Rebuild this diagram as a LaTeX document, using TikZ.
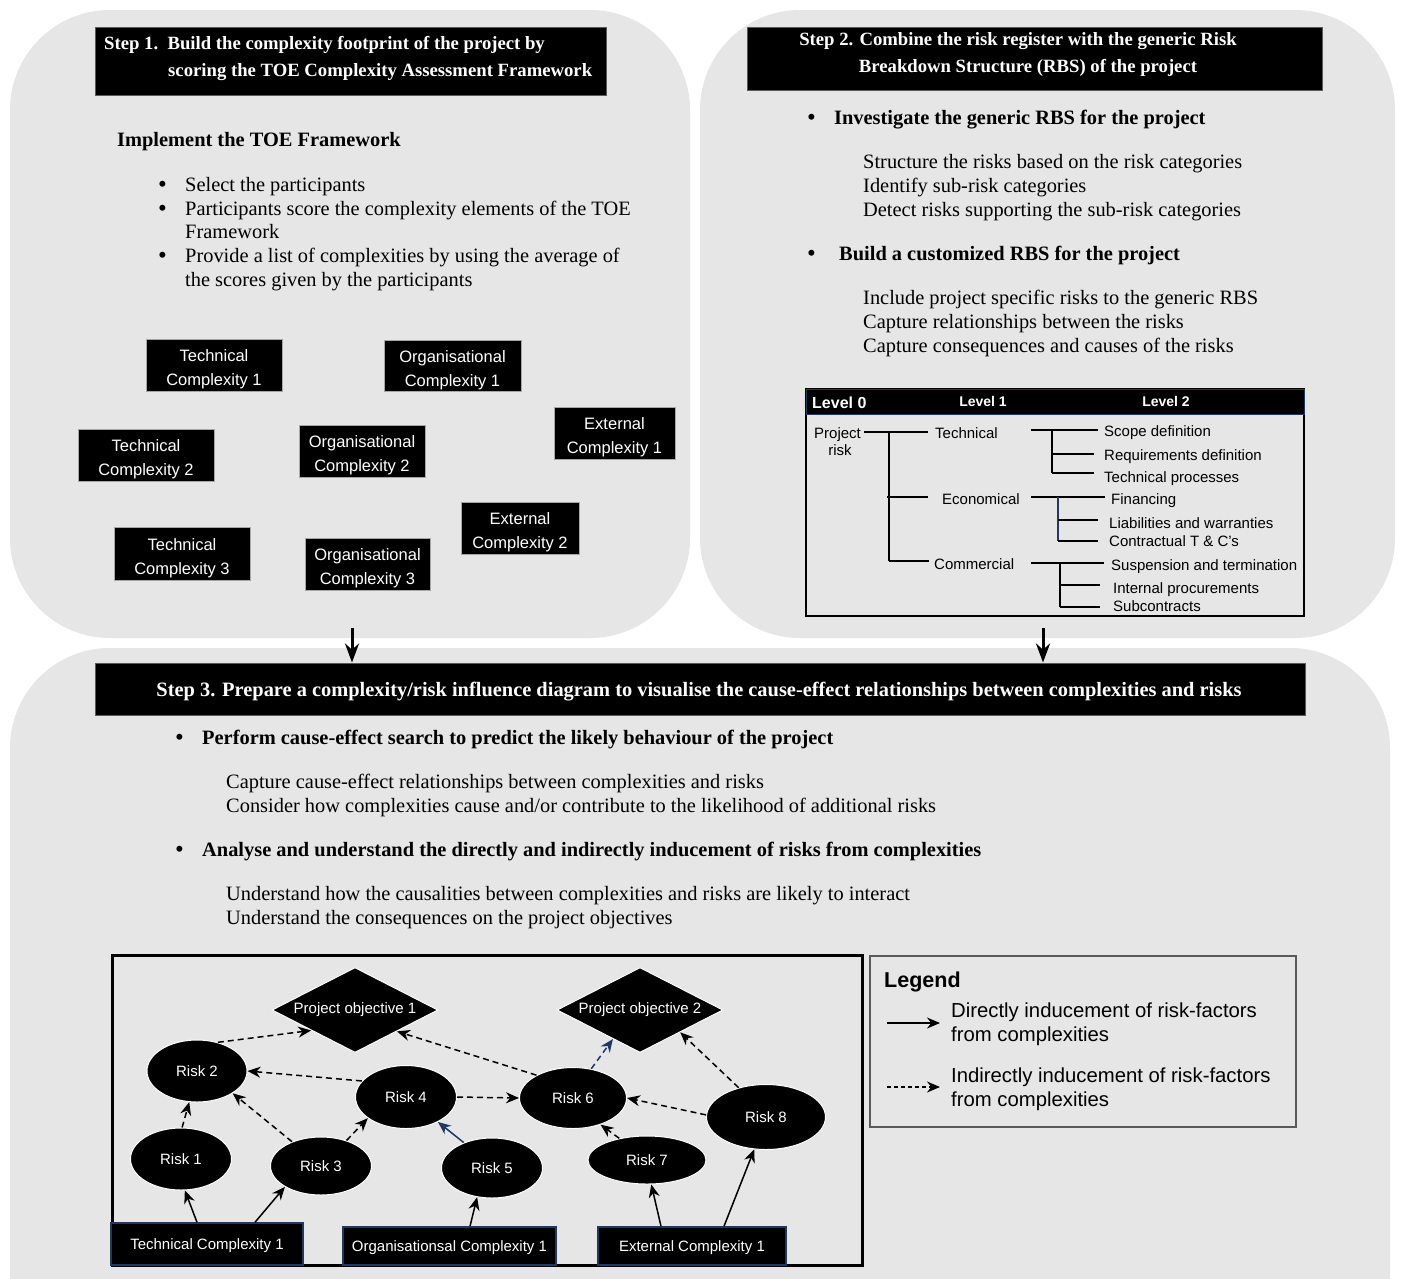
\documentclass[tikz,border=0pt]{standalone}
\usepackage{fontspec}
\setmainfont{Liberation Serif}
\setsansfont{Liberation Sans}
\usetikzlibrary{shapes.geometric,arrows.meta}
\definecolor{panelgray}{RGB}{230,230,230}
\definecolor{navy}{RGB}{31,56,100}
\definecolor{edgegray}{RGB}{90,90,90}
\newcommand\twolines[2]{\raisebox{-4pt}[\height][\depth]{\begin{tabular}{@{}c@{}}#1\\#2\end{tabular}}}
\begin{document}
\begin{tikzpicture}[x=1pt,y=-1pt,
  panel/.style={fill=panelgray,rounded corners=100pt,inner sep=0pt},
  hdr/.style={fill=black,draw=edgegray,line width=1pt,inner sep=0pt},
  hdrtxt/.style={text=white,inner sep=0pt,font=\fontsize{18.7}{27}\selectfont\bfseries},
  txt/.style={anchor=base west,inner sep=0pt,font=\fontsize{20.4}{24}\selectfont},
  btxt/.style={anchor=base west,inner sep=0pt,font=\fontsize{20.4}{24}\selectfont\bfseries},
  bul/.style={anchor=base west,inner sep=0pt,font=\fontsize{25}{24}\selectfont},
  cbox/.style={fill=black,draw=gray!70,line width=0.8pt,text=white,inner sep=0pt,
    font=\sffamily\fontsize{16.5}{24}\selectfont},
  rbst/.style={anchor=base west,inner sep=0pt,font=\sffamily\fontsize{15}{18}\selectfont},
  rbsl/.style={line width=1.5pt},
  risk/.style={ellipse,fill=black,draw=white,line width=1pt,text=white,inner sep=0pt,
    font=\sffamily\fontsize{15}{18}\selectfont},
  obj/.style={diamond,aspect=2,fill=black,draw=white,line width=1pt,text=white,inner sep=0pt,
    minimum width=166pt,minimum height=85pt,font=\sffamily\fontsize{15}{18}\selectfont},
  cplx/.style={fill=black,draw=navy,line width=1.5pt,text=white,inner sep=0pt,
    text height=11pt,text depth=0pt,font=\sffamily\fontsize{15}{18}\selectfont},
  direct/.style={line width=1.5pt,-{Stealth[length=13pt,width=11pt]}},
  indirect/.style={line width=1.5pt,dash pattern=on 6pt off 4pt,-{Stealth[length=13pt,width=11pt]}},
  bigarrow/.style={line width=3pt,-{Stealth[length=19pt,width=14pt]}},
  legtxt/.style={anchor=base west,inner sep=0pt,font=\sffamily\fontsize{20.3}{24}\selectfont}
]
\useasboundingbox (0,0) rectangle (1401,1278);
\clip (0,0) rectangle (1401,1278);
\fill[white] (0,0) rectangle (1401,1278);

% panels
\node[panel,minimum width=680pt,minimum height=628pt] (p1) at (350,324) {};
\node[panel,minimum width=695pt,minimum height=628pt] (p2) at (1047.5,324) {};
\node[panel,minimum width=1380pt,minimum height=740pt] (p3) at (700,1018) {};

% ---------- Step 1 ----------
\node[hdr,minimum width=511pt,minimum height=68pt] (s1) at (350.5,61) {};
\node[hdrtxt,anchor=base west] (s1a) at (104,49) {Step 1.\ \ Build the complexity footprint of the project by};
\node[hdrtxt,anchor=base west] (s1b) at (168,76) {scoring the TOE Complexity Assessment Framework};

\node[btxt] (i1) at (117,146) {Implement the TOE Framework};
\node[bul] (b1) at (158,192) {\textbullet};
\node[txt] (i2) at (185,191) {Select the participants};
\node[bul] (b2) at (158,216) {\textbullet};
\node[txt] (i3) at (185,215) {Participants score the complexity elements of the TOE};
\node[txt] (i4) at (185,238) {Framework};
\node[bul] (b3) at (158,263) {\textbullet};
\node[txt] (i5) at (185,262) {Provide a list of complexities by using the average of};
\node[txt] (i6) at (185,286) {the scores given by the participants};

\node[cbox,minimum width=136pt,minimum height=52pt] (tc1) at (214,365) {\twolines{Technical}{Complexity 1}};
\node[cbox,minimum width=137pt,minimum height=51pt] (oc1) at (452.5,365.5) {\twolines{Organisational}{Complexity 1}};
\node[cbox,minimum width=121pt,minimum height=52pt] (ec1) at (614.5,433) {\twolines{External}{Complexity 1}};
\node[cbox,minimum width=136pt,minimum height=52pt] (tc2) at (146,455) {\twolines{Technical}{Complexity 2}};
\node[cbox,minimum width=126pt,minimum height=52pt] (oc2) at (362,451) {\twolines{Organisational}{Complexity 2}};
\node[cbox,minimum width=118pt,minimum height=52pt] (ec2) at (520,528) {\twolines{External}{Complexity 2}};
\node[cbox,minimum width=136pt,minimum height=53pt] (tc3) at (182,553.5) {\twolines{Technical}{Complexity 3}};
\node[cbox,minimum width=125pt,minimum height=52pt] (oc3) at (367.5,564) {\twolines{Organisational}{Complexity 3}};

% ---------- Step 2 ----------
\node[hdr,minimum width=575pt,minimum height=63pt] (s2) at (1034.5,58.5) {};
\node[hdrtxt,anchor=base] (s2a) at (1018,45) {Step 2. Combine the risk register with the generic Risk};
\node[hdrtxt,anchor=base] (s2b) at (1028,72) {Breakdown Structure (RBS) of the project};

\node[bul] (c1) at (807,125) {\textbullet};
\node[btxt] (c2) at (834,124) {Investigate the generic RBS for the project};
\node[txt] (c3) at (863,168) {Structure the risks based on the risk categories};
\node[txt] (c4) at (863,192) {Identify sub-risk categories};
\node[txt] (c5) at (863,216) {Detect risks supporting the sub-risk categories};
\node[bul] (c6) at (807,261) {\textbullet};
\node[btxt] (c7) at (839,260) {Build a customized RBS for the project};
\node[txt] (c8) at (863,304) {Include project specific risks to the generic RBS};
\node[txt] (c9) at (863,328) {Capture relationships between the risks};
\node[txt] (c10) at (863,352) {Capture consequences and causes of the risks};

% RBS table
\node[draw=black,line width=2pt,fill=panelgray,minimum width=498pt,minimum height=227pt,inner sep=0pt] (rbs) at (1055,502.5) {};
\node[fill=black,draw=navy,line width=1pt,minimum width=498pt,minimum height=25pt,inner sep=0pt] (rbsh) at (1055,401.5) {};
\node[anchor=base west,inner sep=0pt,text=white,font=\sffamily\bfseries\fontsize{16}{18}\selectfont] (lv0) at (812,408) {Level 0};
\node[anchor=base,inner sep=0pt,text=white,font=\sffamily\bfseries\fontsize{14}{18}\selectfont] (lv1) at (983,406) {Level 1};
\node[anchor=base,inner sep=0pt,text=white,font=\sffamily\bfseries\fontsize{14}{18}\selectfont] (lv2) at (1166,406) {Level 2};

\node[rbst] (pr) at (814,438) {Project};
\node[rbst,anchor=base] (prr) at (840,455) {risk};
\node[rbst] (tec) at (935,438) {Technical};
\node[rbst] (eco) at (942,504) {Economical};
\node[rbst] (com) at (934,569) {Commercial};
\node[rbst] (t1) at (1104,436) {Scope definition};
\node[rbst] (t2) at (1104,460) {Requirements definition};
\node[rbst] (t3) at (1104,482) {Technical processes};
\node[rbst] (e1) at (1111,504) {Financing};
\node[rbst] (e2) at (1109,528) {Liabilities and warranties};
\node[rbst] (e3) at (1109,546) {Contractual T \& C's};
\node[rbst] (m1) at (1111,570) {Suspension and termination};
\node[rbst] (m2) at (1113,593) {Internal procurements};
\node[rbst] (m3) at (1113,611) {Subcontracts};

\draw[rbsl] (864,432) -- (928,432);
\draw[rbsl] (889,432) -- (889,561);
\draw[rbsl] (887,497) -- (928,497);
\draw[rbsl] (889,561) -- (929,561);
\draw[rbsl] (1031,430) -- (1098,430);
\draw[rbsl] (1052,430) -- (1052,473);
\draw[rbsl] (1052,454) -- (1094,454);
\draw[rbsl] (1052,473) -- (1094,473);
\draw[rbsl] (1031,497) -- (1105,497);
\draw[rbsl,draw=navy] (1058,497) -- (1058,541);
\draw[rbsl] (1058,520) -- (1098,520);
\draw[rbsl] (1058,541) -- (1098,541);
\draw[rbsl] (1031,563) -- (1104,563);
\draw[rbsl] (1060,563) -- (1060,607);
\draw[rbsl] (1060,585) -- (1100,585);
\draw[rbsl] (1060,607) -- (1100,607);

% ---------- Step 3 ----------
\node[hdr,minimum width=1210pt,minimum height=52pt] (s3) at (700,689) {};
\node[hdrtxt,anchor=base,font=\fontsize{20.4}{22}\selectfont\bfseries] (s3a) at (699,696) {Step 3. Prepare a complexity/risk influence diagram to visualise the cause-effect relationships between complexities and risks};

\coordinate (ar1) at (352,628);
\coordinate (ar2) at (1043,628);
\draw[bigarrow] (ar1) -- (ar1 |- s3.north);
\draw[bigarrow] (ar2) -- (ar2 |- s3.north);

\node[bul] (d1) at (175,745) {\textbullet};
\node[btxt] (d2) at (202,744) {Perform cause-effect search to predict the likely behaviour of the project};
\node[txt] (d3) at (226,788) {Capture cause-effect relationships between complexities and risks};
\node[txt] (d4) at (226,812) {Consider how complexities cause and/or contribute to the likelihood of additional risks};
\node[bul] (d5) at (175,857) {\textbullet};
\node[btxt] (d6) at (202,856) {Analyse and understand the directly and indirectly inducement of risks from complexities};
\node[txt] (d7) at (226,900) {Understand how the causalities between complexities and risks are likely to interact};
\node[txt] (d8) at (226,924) {Understand the consequences on the project objectives};

% diagram frame
\node[draw=black,line width=3pt,fill=panelgray,minimum width=750pt,minimum height=310pt,inner sep=0pt] (frame) at (487,1110) {};

\node[obj] (po1) at (355,1010) {Project objective 1};
\node[obj] (po2) at (640,1010) {Project objective 2};
\node[risk,minimum width=100pt,minimum height=62pt] (r2) at (197,1071) {Risk 2};
\node[risk,minimum width=101pt,minimum height=63pt] (r4) at (406,1097) {Risk 4};
\node[risk,minimum width=107pt,minimum height=61pt] (r6) at (573,1098) {Risk 6};
\node[risk,minimum width=119pt,minimum height=65pt] (r8) at (766,1117) {Risk 8};
\node[risk,minimum width=101pt,minimum height=62pt] (r1) at (181,1159) {Risk 1};
\node[risk,minimum width=101pt,minimum height=58pt] (r3) at (321,1166) {Risk 3};
\node[risk,minimum width=101pt,minimum height=60pt] (r5) at (492,1168) {Risk 5};
\node[risk,minimum width=118pt,minimum height=48pt] (r7) at (647,1160) {Risk 7};

\node[cplx,minimum width=192pt,minimum height=42pt] (btc) at (207,1244) {Technical Complexity 1};
\node[cplx,minimum width=213pt,minimum height=38pt] (boc) at (449.5,1246) {Organisationsal Complexity 1};
\node[cplx,minimum width=188pt,minimum height=38pt] (bec) at (692,1246) {External Complexity 1};

% direct arrows
\draw[direct] ([xshift=-10pt]btc.north) -- (r1.277);
\draw[direct] ([xshift=48pt]btc.north) -- (r3.210);
\draw[direct] ([xshift=20.5pt]boc.north) -- (r5.243);
\draw[direct] ([xshift=-31pt]bec.north) -- (r7.280);
\draw[direct] ([xshift=32pt]bec.north) -- (r8.250);
\draw[direct,draw=navy] (r5.138) -- (r4.322);

% indirect arrows
\draw[indirect] (r1.88) -- (r2.256);
\draw[indirect] (r3.140) -- (r2.328);
\draw[indirect] (r3.45) -- (r4.209);
\draw[indirect] (r4.160) -- (r2.east);
\draw[indirect] (r2.54) -- (po1.205);
\draw[indirect] (r4.east) -- (r6.west);
\draw[indirect] (r6.148) -- (po1.333);
\draw[indirect,draw=navy] (r6.58) -- (po2.227);
\draw[indirect] (r7.142) -- (r6.316);
\draw[indirect] (r8.178) -- (r6.east);
\draw[indirect] (r8.133) -- (po2.331);

% legend
\node[draw=edgegray,line width=2pt,minimum width=426pt,minimum height=171pt,inner sep=0pt] (leg) at (1083,1041.5) {};
\node[anchor=base west,inner sep=0pt,font=\sffamily\bfseries\fontsize{21.5}{24}\selectfont] (legt) at (884,987) {Legend};
\coordinate (la1) at (887,1023);
\coordinate (la2) at (940,1023);
\coordinate (lb1) at (887,1087);
\coordinate (lb2) at (940,1087);
\draw[direct] (la1) -- (la2);
\draw[indirect,dash pattern=on 4pt off 3pt] (lb1) -- (lb2);
\node[legtxt] (l1) at (951,1017) {Directly inducement of risk-factors};
\node[legtxt] (l2) at (951,1041) {from complexities};
\node[legtxt] (l3) at (951,1082) {Indirectly inducement of risk-factors};
\node[legtxt] (l4) at (951,1106) {from complexities};
\end{tikzpicture}
\end{document}
